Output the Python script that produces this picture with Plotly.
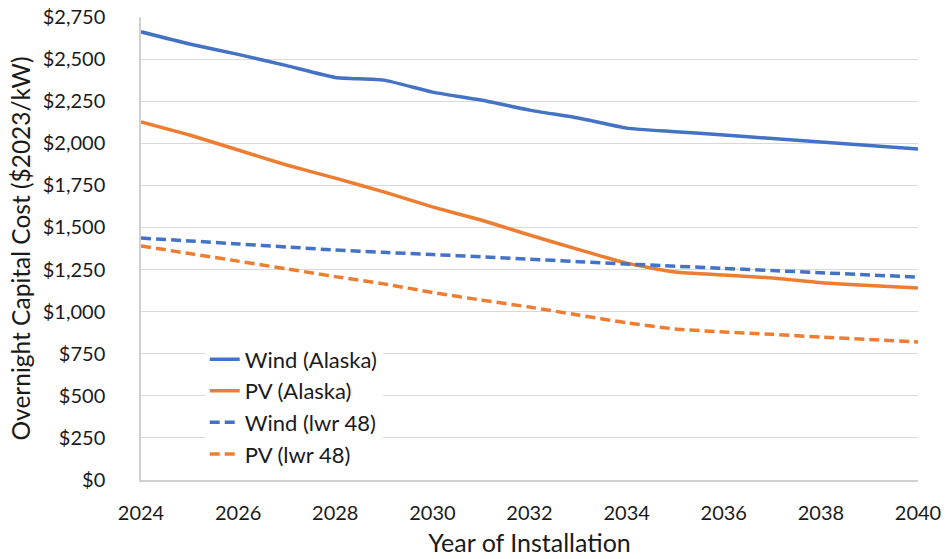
import plotly.graph_objects as go

years = list(range(2024, 2041))

wind_alaska = [2662, 2590, 2528, 2461, 2391, 2375, 2304, 2257, 2197, 2150, 2090, 2069, 2049, 2028, 2007, 1987, 1966]
pv_alaska = [2127, 2049, 1960, 1871, 1793, 1711, 1622, 1544, 1455, 1370, 1288, 1235, 1217, 1200, 1172, 1155, 1140]
wind_lwr48 = [1437, 1420, 1402, 1384, 1366, 1352, 1339, 1326, 1312, 1297, 1283, 1270, 1257, 1244, 1231, 1218, 1205]
pv_lwr48 = [1390, 1345, 1300, 1254, 1208, 1165, 1114, 1069, 1027, 980, 934, 897, 879, 865, 849, 835, 820]

series_names = ["Wind (Alaska)", "PV (Alaska)", "Wind (lwr 48)", "PV (lwr 48)"]
series_values = [wind_alaska, pv_alaska, wind_lwr48, pv_lwr48]

y_ticks = list(range(0, 2751, 250))
y_tick_text = ["$" + format(v, ",") for v in y_ticks]
x_ticks = list(range(2024, 2041, 2))

BLUE = "#4472C4"
ORANGE = "#ED7D31"
styles = [(BLUE, "solid"), (ORANGE, "solid"), (BLUE, "10px,5px"), (ORANGE, "10px,5px")]

FONT = "Lato, 'Open Sans', sans-serif"

fig = go.Figure()
for i, (name, vals, (color, dash)) in enumerate(zip(series_names, series_values, styles)):
    fig.add_trace(
        go.Scatter(
            x=years,
            y=vals,
            name=name,
            legendgroup="g%d" % i,
            mode="lines",
            line=dict(color=color, width=3.5, dash=dash, shape="spline", smoothing=0.5),
        )
    )

fig.update_layout(
    width=947,
    height=559,
    margin=dict(l=141, r=29, t=17, b=79, autoexpand=False),
    paper_bgcolor="white",
    plot_bgcolor="white",
    font=dict(family=FONT, size=20, color="#1a1a1a"),
    showlegend=True,
    legend=dict(
        x=0.082,
        y=0.01,
        xanchor="left",
        yanchor="bottom",
        bgcolor="white",
        borderwidth=0,
        font=dict(size=22, color="#1a1a1a"),
        tracegroupgap=6,
        traceorder="normal",
    ),
)

fig.update_xaxes(
    range=[2024, 2040],
    tickvals=x_ticks,
    showgrid=False,
    showline=True,
    linecolor="#d0d0d0",
    linewidth=1.5,
    ticks="",
    ticklabelstandoff=14,
    zeroline=False,
    automargin=False,
    title=dict(text="Year of Installation", font=dict(size=25), standoff=12),
)

fig.update_yaxes(
    range=[0, 2750],
    tickvals=y_ticks,
    ticktext=y_tick_text,
    showgrid=True,
    gridcolor="#d9d9d9",
    gridwidth=1.2,
    showline=True,
    linecolor="#d0d0d0",
    linewidth=1.5,
    ticks="",
    ticklabelstandoff=30,
    zeroline=False,
    automargin=False,
    title=dict(text="Overnight Capital Cost ($2023/kW)", font=dict(size=24.5), standoff=5),
)

# drop the default 8px page margin so the figure sits at the window corner
fig.write_html(
    "out.html",
    config={"displayModeBar": False},
    post_script="document.body.style.margin='0';",
)
